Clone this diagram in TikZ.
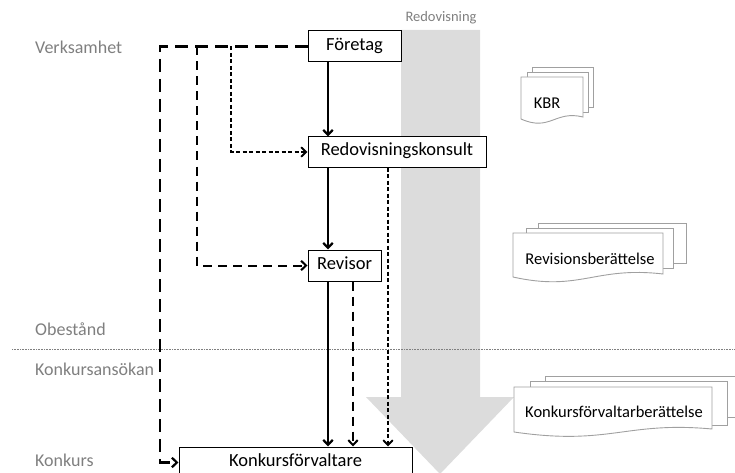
\documentclass[tikz,border=0pt]{standalone}
\usepackage{fontspec}
\setmainfont{Carlito}
\usetikzlibrary{arrows.meta}
\definecolor{flowgray}{HTML}{DCDCDC}
\definecolor{labgray}{HTML}{7F7F7F}
\definecolor{docline}{HTML}{A0A0A0}
\begin{document}
\begin{tikzpicture}[x=1pt,y=-1pt,
  box/.style={draw=black,line width=1pt,fill=white,inner sep=0pt,
    text height=0.78em,text depth=0pt,font=\fontsize{18.5}{21}\selectfont},
  lab/.style={anchor=base west,inner sep=0pt,text=labgray,font=\fontsize{18}{21}\selectfont},
  doctext/.style={inner sep=0pt,font=\fontsize{16.5}{19}\selectfont},
  page/.style={draw=docline,line width=0.9pt,fill=white},
  tip/.style={-{Straight Barb[length=5pt,width=9.5pt]}},
  solidconn/.style={tip,line width=2.2pt},
  longdash/.style={tip,line width=2.2pt,dash pattern=on 13pt off 7pt},
  middash/.style={tip,line width=2pt,dash pattern=on 9pt off 6pt},
  shortdash/.style={tip,line width=1.9pt,dash pattern=on 4pt off 2.5pt}]
\useasboundingbox (0,0) rectangle (735,473);

% big gray flow arrow
\fill[flowgray] (401,30) -- (480,30) -- (480,397) -- (514,397) -- (440,474)
  -- (366,397) -- (401,397) -- cycle;
\node[inner sep=0pt,text=labgray,font=\fontsize{14.5}{17}\selectfont] (redtitle) at (441,18) {Redovisning};

% dotted separator
\draw[labgray,line width=0.5pt,dash pattern=on 0.8pt off 0.8pt] (12,349) -- (735,349);

% left labels
\node[lab] (verk) at (35,54) {Verksamhet};
\node[lab] (obes) at (35,335) {Obestånd};
\node[lab] (kans) at (35,375) {Konkursansökan};
\node[lab] (konk) at (35,466) {Konkurs};

% documents: KBR
\draw[page] (532,67) rectangle (593,107);
\draw[page] (527,72) rectangle (588,112);
\draw[page] (521,77) -- (583,77) -- (583,117)
  .. controls (555,110) and (550,132) .. (521,119) -- cycle;
\node[doctext] (kbr) at (547,103) {KBR};

% documents: Revisionsberaettelse
\draw[page] (538,223) rectangle (686,263);
\draw[page] (526,228) rectangle (673,268);
\draw[page] (513,233) -- (663,233) -- (663,274)
  .. controls (595,266) and (580,292) .. (513,277) -- cycle;
\node[doctext] (revb) at (590,259) {Revisionsberättelse};

% documents: Konkursfoervaltarberaettelse
\draw[page] (545,376) rectangle (745,417);
\draw[page] (530,381) rectangle (727,425);
\draw[page] (514,387) -- (712,387) -- (712,429)
  .. controls (625,421) and (610,446) .. (514,432) -- cycle;
\node[doctext] (konkb) at (614,412) {Konkursförvaltarberättelse};

% main boxes
\node[box,minimum width=93pt,minimum height=31pt] (F) at (354.5,46.5) {Företag};
\node[box,minimum width=178pt,minimum height=30pt] (RK) at (397,152) {Redovisningskonsult};
\node[box,minimum width=73pt,minimum height=31pt] (Rev) at (344.5,265.5) {Revisor};
\node[box,minimum width=233pt,minimum height=31pt] (K) at (295.5,462.5) {Konkursförvaltare};

% helper coordinates
\coordinate (xs) at (328,0);
\coordinate (xd1) at (353,0);
\coordinate (xd2) at (388,0);
\coordinate (c1) at (160,46.5);
\coordinate (c2) at (197,46.5);
\coordinate (c3) at (231,46.5);

% solid chain
\draw[solidconn] (F.south -| xs) -- (RK.north -| xs);
\draw[solidconn] (RK.south -| xs) -- (Rev.north -| xs);
\draw[solidconn] (Rev.south -| xs) -- (K.north -| xs);

% dashed down to Konkursfoervaltare
\draw[middash] (Rev.south -| xd1) -- (K.north -| xd1);
\draw[shortdash] (RK.south -| xd2) -- (K.north -| xd2);

% left dashed paths from Foeretag
\draw[longdash] (F.west) -- (c1) |- (K.west);
\draw[middash] (c2) |- (Rev.west);
\draw[shortdash] (c3) |- (RK.west);
\end{tikzpicture}
\end{document}
